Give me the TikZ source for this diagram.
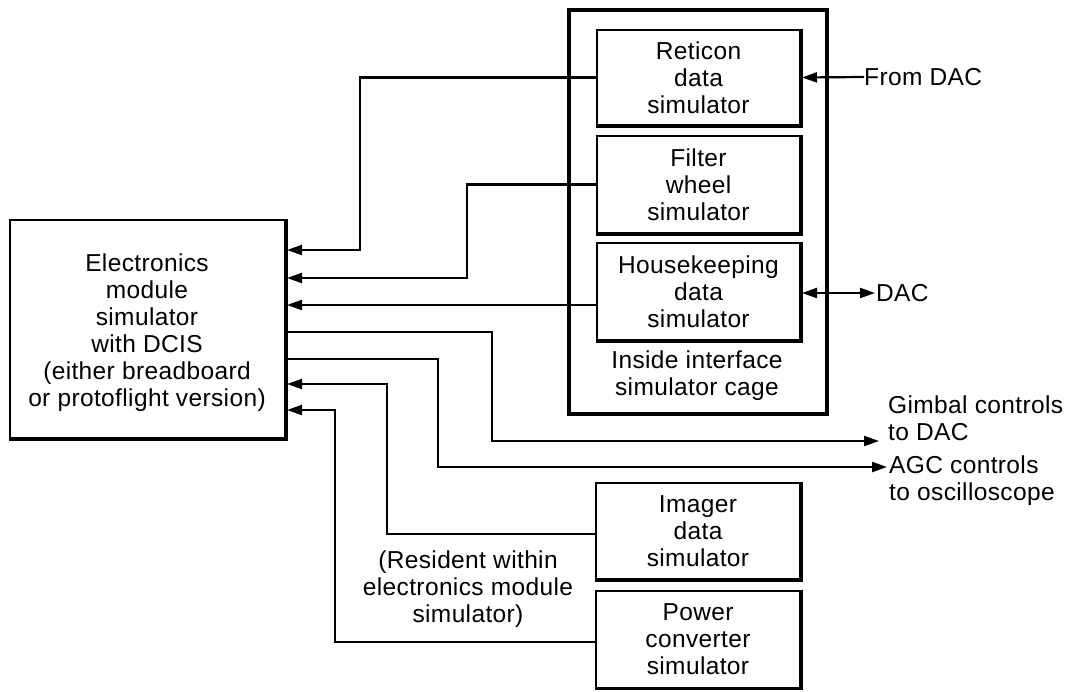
\documentclass[tikz,border=0pt]{standalone}
\usepackage{fontspec}
\setmainfont{Liberation Sans}[LetterSpace=1.5]
\usetikzlibrary{arrows.meta,calc}
\begin{document}
\begin{tikzpicture}[x=1pt,y=-1pt,
  txt/.style={inner sep=0pt,font=\fontsize{24.5}{27}\selectfont},
  box/.style={txt,draw,line width=2pt,rectangle,align=center},
  lbl/.style={txt,align=left,anchor=west},
  conn/.style={line width=2.2pt},
  tip/.tip={Triangle[length=15pt,width=10pt]},
  arr/.style={conn,-tip,shorten >=1pt}]
\useasboundingbox (0,0) rectangle (1075,691);

% boxes
\node[box,minimum width=275pt,minimum height=218pt] (ems) at (147.5,329) {};
\node[txt,align=center] (emstext) at (147,332.5) {Electronics\\module\\simulator\\with DCIS\\(either breadboard\\or protoflight version)};

\node[draw,line width=4pt,minimum width=258pt,minimum height=404pt,inner sep=0pt] (cage) at (698,212) {};
\node[txt,align=center] (cagelbl) at (697,376) {Inside interface\\simulator cage};

\node[box,minimum width=203pt,minimum height=95pt] (ret) at (698.5,77.5) {Reticon\\data\\simulator};
\node[box,minimum width=203pt,minimum height=97pt] (fil) at (698.5,184.5) {Filter\\wheel\\simulator};
\node[box,minimum width=203pt,minimum height=97pt] (hk) at (698.5,291.5) {Housekeeping\\data\\simulator};
\node[box,minimum width=204pt,minimum height=96pt] (img) at (698,531) {Imager\\data\\simulator};
\node[box,minimum width=204pt,minimum height=97pt] (pwr) at (698,639) {Power\\converter\\simulator};

\foreach \n in {ems,ret,fil,hk,img,pwr}
  \draw[line width=3.5pt] (\n.north east) -- (\n.south east) -- (\n.south west);

% labels
\node[lbl] (fromdac) at (864,77) {From DAC};
\node[lbl] (dac) at (876,293) {DAC};
\node[lbl] (gim) at (888,418) {Gimbal controls\\to DAC};
\node[lbl] (agc) at (889,481) {AGC controls\\to oscilloscope};
\node[txt,align=center] (res) at (468,589) {(Resident within\\electronics module\\simulator)};

\coordinate (gimend) at (880,441);
\coordinate (agcend) at (888,467);

% connectors
\draw[arr] (ret.west) -| (360,250) -- (ems.east |- 0,250);
\draw[arr] (fil.west) -| (467,278) -- (ems.east |- 0,278);
\draw[arr] (hk.west |- 0,305) -- (ems.east |- 0,305);
\draw[arr] (ems.east |- 0,332) -| (492,441) -- (gimend);
\draw[arr] (ems.east |- 0,359) -| (438,467) -- (agcend);
\draw[arr] (img.west |- 0,534) -| (387,384) -- (ems.east |- 0,384);
\draw[arr] (pwr.west |- 0,642) -| (335,410) -- (ems.east |- 0,410);
\draw[arr] (fromdac.west) -- (ret.east);
\draw[conn,tip-tip,shorten >=1pt,shorten <=1pt] (hk.east |- 0,293) -- (dac.west);
\end{tikzpicture}
\end{document}
